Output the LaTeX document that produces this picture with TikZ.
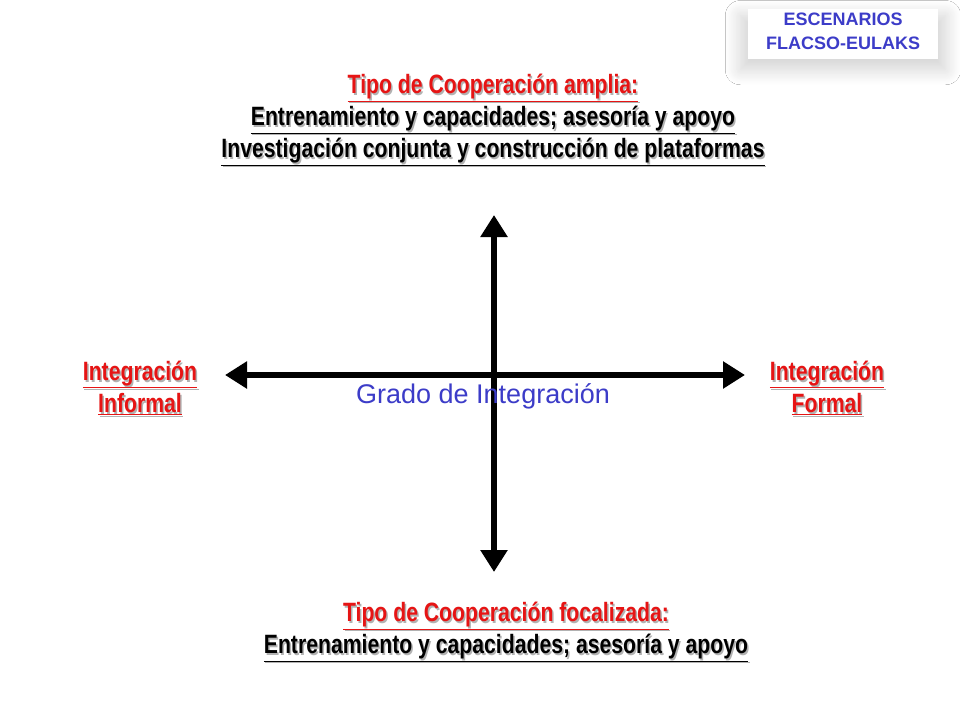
\documentclass[tikz,border=0pt]{standalone}
\usepackage{fontspec}
\setmainfont{Liberation Sans}[FakeStretch=0.8]
\newfontfamily\wide{Liberation Sans}
\usetikzlibrary{arrows.meta,shadows.blur}
\definecolor{rd}{RGB}{230,20,20}
\definecolor{bl}{RGB}{60,60,200}
\tikzset{
 lbl/.style={font=\fontsize{26.5}{32}\selectfont\bfseries,align=center,inner sep=0pt},
 shd/.style={lbl,text=black!30},
 ax/.style={line width=6pt,-{Triangle[length=22pt,width=26pt]}},
}
\newcommand{\ul}[1]{\underline{#1}}
\begin{document}
\begin{tikzpicture}[x=1pt,y=-1pt]
\useasboundingbox (0,0) rectangle (960,720);
\fill[white] (0,0) rectangle (960,720);
\node[fill=white,minimum width=190pt,minimum height=50pt,blur shadow={shadow blur steps=20,shadow blur radius=14pt,shadow xshift=0pt,shadow yshift=-8pt,shadow opacity=18,shadow scale=1.08}] (box) at (843,34) {};
\node[font=\wide\fontsize{18}{24}\selectfont\bfseries,text=bl,align=center] (esc) at (843,31) {ESCENARIOS\\FLACSO-EULAKS};
% axes
\coordinate (c) at (494,375);
\coordinate (l) at (225,375);
\coordinate (r) at (745,375);
\coordinate (t) at (494,215);
\coordinate (b) at (494,572);
\draw[ax] (c) -- (l);
\draw[ax] (c) -- (r);
\draw[ax] (c) -- (t);
\draw[ax] (c) -- (b);
\node[font=\wide\fontsize{27}{30}\selectfont,text=bl] (grado) at (483,396) {Grado de Integración};
% top
\node[shd] (tops) at (494.5,121.5) {\ul{Tipo de Cooperación amplia:}\\\ul{Entrenamiento y capacidades; asesoría y apoyo}\\\ul{Investigación conjunta y construcción de plataformas}};
\node[lbl] (top) at (493,120) {\textcolor{rd}{\ul{Tipo de Cooperación amplia:}}\\\ul{Entrenamiento y capacidades; asesoría y apoyo}\\\ul{Investigación conjunta y construcción de plataformas}};
% bottom
\node[shd] (bots) at (507.5,633.5) {\ul{Tipo de Cooperación focalizada:}\\\ul{Entrenamiento y capacidades; asesoría y apoyo}};
\node[lbl] (bot) at (506,632) {\textcolor{rd}{\ul{Tipo de Cooperación focalizada:}}\\\ul{Entrenamiento y capacidades; asesoría y apoyo}};
% left / right
\node[shd] (ls) at (141.5,389.5) {\ul{Integración}\\\ul{Informal}};
\node[lbl,text=rd] (lft) at (140,388) {\ul{Integración}\\\ul{Informal}};
\node[shd] (rs) at (828.5,389.5) {\ul{Integración}\\\ul{Formal}};
\node[lbl,text=rd] (rgt) at (827,388) {\ul{Integración}\\\ul{Formal}};
\end{tikzpicture}
\end{document}
